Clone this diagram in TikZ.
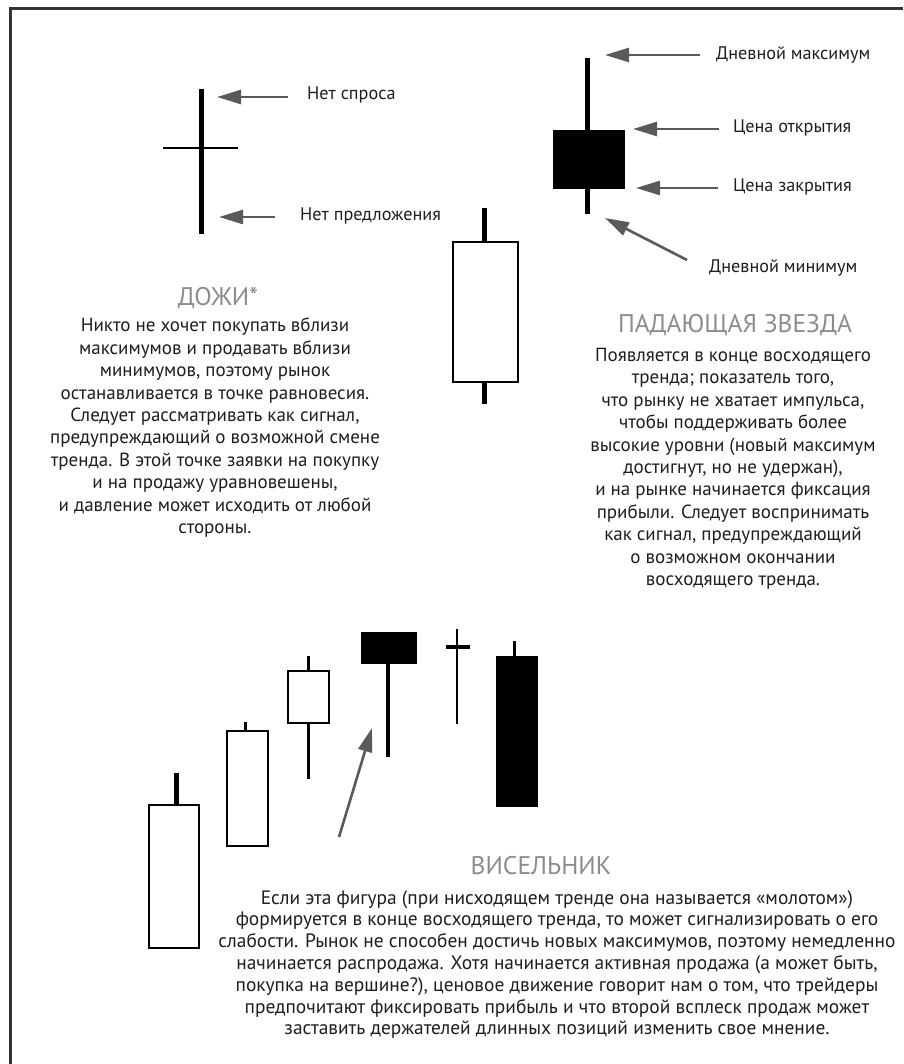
\documentclass[tikz,border=0pt]{standalone}
\usepackage{fontspec}
\setmainfont{PT Sans}
\usetikzlibrary{arrows.meta}
\definecolor{framec}{HTML}{333333}
\definecolor{arrowc}{HTML}{5A5A5A}
\definecolor{titlec}{HTML}{8C8C8C}
\definecolor{textc}{HTML}{1E1E1E}
\tikzset{
  frameline/.style={line width=3pt, draw=framec},
  wick/.style={line width=5pt, draw=black},
  thinwick/.style={line width=3pt, draw=black},
  whitebody/.style={line width=2.6pt, draw=black, fill=white},
  blackbody/.style={draw=black, line width=1pt, fill=black},
  pointer/.style={line width=2.6pt, draw=arrowc, -{Triangle[length=24pt,width=14pt,fill=arrowc]}},
  lbl/.style={anchor=west, inner sep=0pt, text=textc, font=\fontsize{18.2}{20}\selectfont},
  ttl/.style={inner sep=0pt, text=titlec, font=\fontsize{25.5}{27}\selectfont},
  para/.style={anchor=north, inner sep=0pt, align=center, text=textc, font=\fontsize{19}{22.4}\selectfont},
  parawide/.style={anchor=north, inner sep=0pt, align=center, text=textc, font=\fontsize{19.4}{21.8}\selectfont},
}
\begin{document}
\begin{tikzpicture}[x=1pt,y=-1pt]
\useasboundingbox (0,0) rectangle (903,1064);
\draw[frameline] (10,1064) -- (10,9) -- (903,9);

% ---------- Doji ----------
\draw[wick] (201,89) -- (201,234);
\draw[line width=2pt] (163,148) -- (238,148);
\coordinate (dojiTop) at (217,97);
\coordinate (dojiBot) at (219,217);
\node[lbl] (noDemand) at (307,95) {Нет спроса};
\node[lbl] (noSupply) at (300,216) {Нет предложения};
\coordinate (tA) at (288,97);
\coordinate (tB) at (275,217);
\draw[pointer] (tA) -- (dojiTop);
\draw[pointer] (tB) -- (dojiBot);

\node[ttl] (dojiTitle) at (218,298) {ДОЖИ*};
\node[para] (dojiText) at (215,318) {Никто не хочет покупать вблизи\\
максимумов и продавать вблизи\\
минимумов, поэтому рынок\\
останавливается в точке равновесия.\\
Следует рассматривать как сигнал,\\
предупреждающий о возможной смене\\
тренда. В этой точке заявки на покупку\\
и на продажу уравновешены,\\
и давление может исходить от любой\\
стороны.};

% ---------- middle white candle ----------
\draw[wick] (484,208) -- (484,242);
\draw[wick] (484,382) -- (484,404);
\draw[whitebody] (453,242) rectangle (518,382);

% ---------- Shooting star ----------
\draw[wick] (587,58) -- (587,214);
\draw[blackbody] (553,131) rectangle (624,189);
\coordinate (ssHigh) at (605,55);
\coordinate (ssOpen) at (633,129);
\coordinate (ssClose) at (636,188);
\coordinate (ssLow) at (605,218);
\node[lbl] (lHigh) at (716,55) {Дневной максимум};
\node[lbl] (lOpen) at (733,128) {Цена открытия};
\node[lbl] (lClose) at (733,187) {Цена закрытия};
\node[lbl] (lLow) at (709,268) {Дневной минимум};
\coordinate (sA) at (700,55);
\coordinate (sB) at (719,129);
\coordinate (sC) at (718,188);
\coordinate (sD) at (687,260);
\draw[pointer] (sA) -- (ssHigh);
\draw[pointer] (sB) -- (ssOpen);
\draw[pointer] (sC) -- (ssClose);
\draw[pointer] (sD) -- (ssLow);

\node[ttl] (ssTitle) at (735,325) {ПАДАЮЩАЯ ЗВЕЗДА};
\node[para] (ssText) at (733,348) {Появляется в конце восходящего\\
тренда; показатель того,\\
что рынку не хватает импульса,\\
чтобы поддерживать более\\
высокие уровни (новый максимум\\
достигнут, но не удержан),\\
и на рынке начинается фиксация\\
прибыли. Следует воспринимать\\
как сигнал, предупреждающий\\
о возможном окончании\\
восходящего тренда.};

% ---------- Hanging man sequence ----------
\draw[wick] (176,773) -- (176,805);
\draw[whitebody] (149,805) rectangle (199,948);
\draw[thinwick] (245,722) -- (245,731);
\draw[whitebody] (227,731) rectangle (268,846);
\draw[thinwick] (308,656) -- (308,671);
\draw[thinwick] (308,723) -- (308,779);
\draw[whitebody] (288,671) rectangle (329,723);
\draw[line width=4pt] (388,663) -- (388,757);
\draw[blackbody] (361,632) rectangle (416,663);
\draw[line width=2.5pt] (457,629) -- (457,724);
\draw[line width=4pt] (446,647) -- (470,647);
\draw[thinwick] (514,641) -- (514,656);
\draw[blackbody] (496,656) rectangle (537,806);
\coordinate (hmTip) at (372,728);
\coordinate (hmTail) at (339,837);
\draw[pointer] (hmTail) -- (hmTip);

\node[ttl] (hmTitle) at (541,866) {ВИСЕЛЬНИК};
\node[parawide] (hmText) at (557,890) {Если эта фигура (при нисходящем тренде она называется «молотом»)\\
формируется в конце восходящего тренда, то может сигнализировать о его\\
слабости. Рынок не способен достичь новых максимумов, поэтому немедленно\\
начинается распродажа. Хотя начинается активная продажа (а может быть,\\
покупка на вершине?), ценовое движение говорит нам о том, что трейдеры\\
предпочитают фиксировать прибыль и что второй всплеск продаж может\\
заставить держателей длинных позиций изменить свое мнение.};
\end{tikzpicture}
\end{document}
